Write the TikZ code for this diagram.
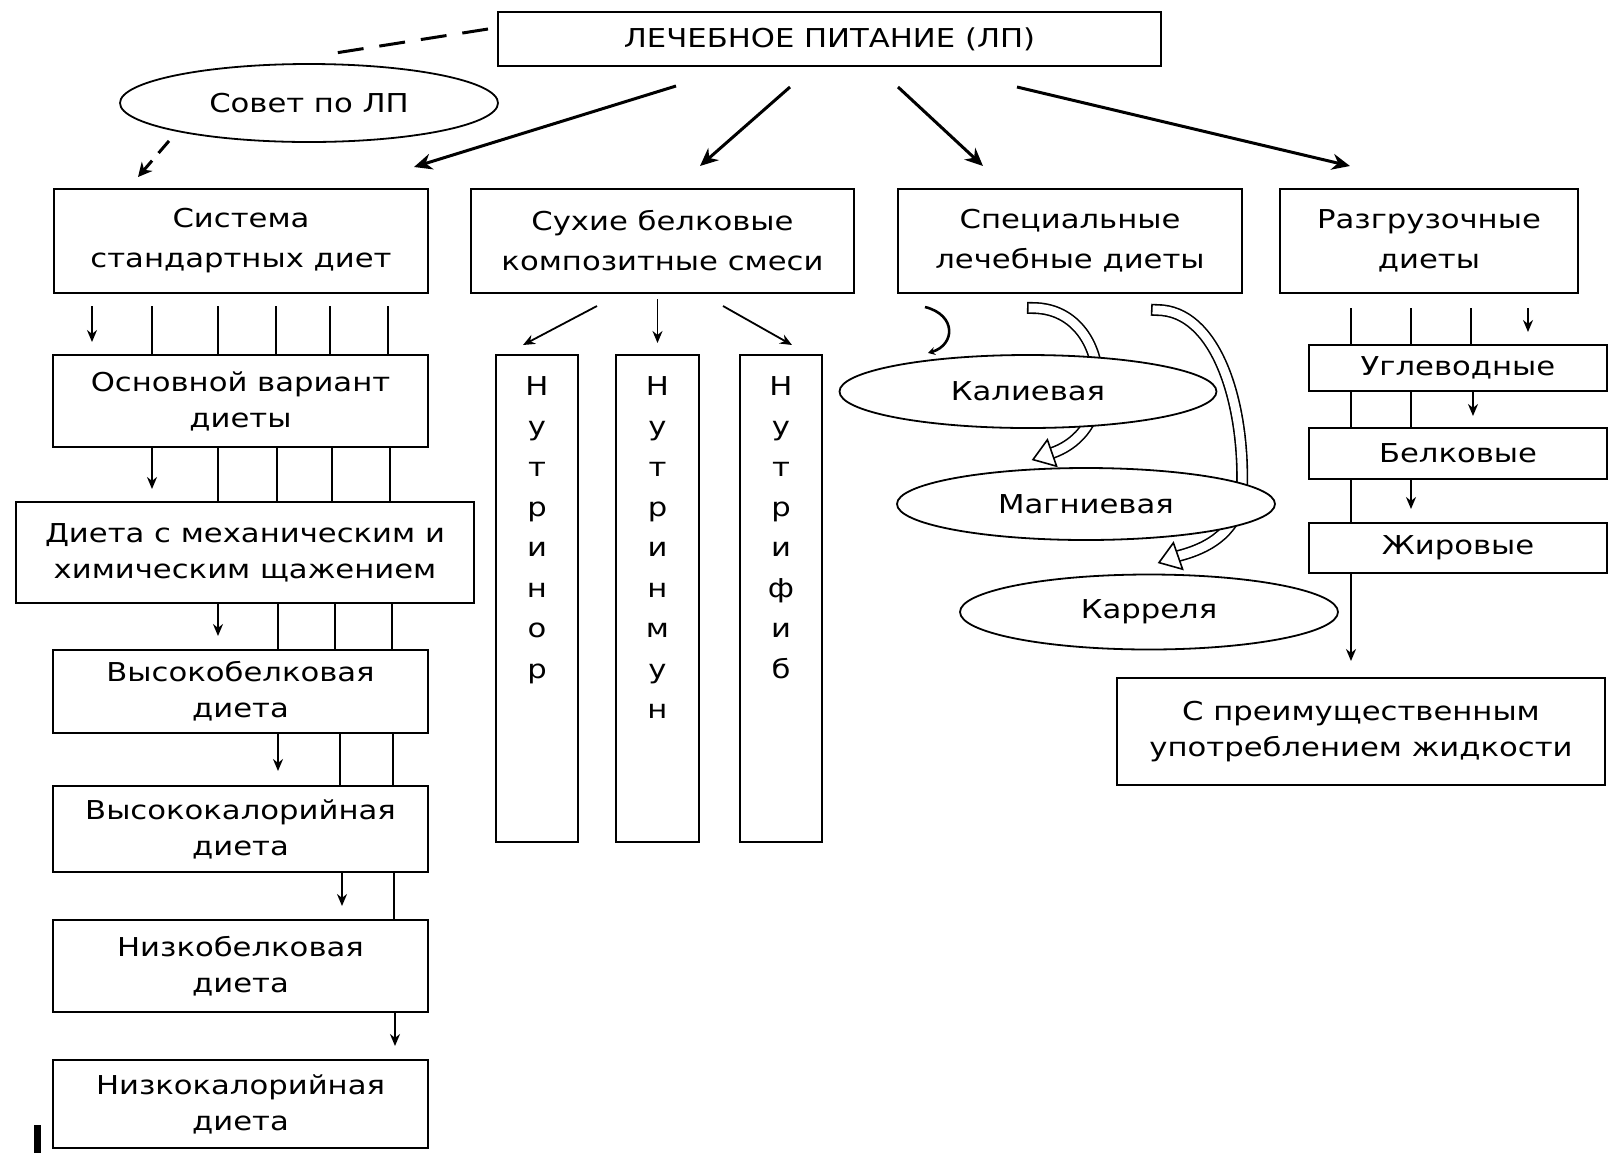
\documentclass[tikz,border=0pt]{standalone}
\usepackage{fontspec}
\setmainfont{DejaVu Sans}[FakeStretch=1.18]
\usetikzlibrary{arrows.meta,shapes.geometric}

\newcommand*{\boxfont}{\fontsize{13pt}{18pt}\selectfont}
\newcommand*{\rowfont}{\fontsize{13pt}{20pt}\selectfont}
\newcommand*{\letterfont}{\fontsize{13pt}{20.2pt}\selectfont}

\tikzset{
    dietbox/.style={draw, line width=1pt, align=center, inner sep=0pt, font=\boxfont},
    dietoval/.style={ellipse, draw, line width=0.9pt, fill=white, inner sep=0pt, font=\boxfont},
    lane/.style={line width=0.9pt},
    downarrow/.style={line width=0.9pt, -{Stealth[length=6pt,width=5pt]}},
    fanarrow/.style={line width=1.5pt, -{Stealth[length=9pt,width=8pt]}},
    dashline/.style={line width=1.5pt, dash pattern=on 13pt off 8pt},
    hollow/.style={double=white, double distance=4.4pt, line width=0.8pt, line cap=rect},
    hollowhead/.style={draw, line width=0.8pt, fill=white, line join=miter},
}

\begin{document}
\begin{tikzpicture}[x=0.5pt, y=-0.5pt]
    \useasboundingbox (0,0) rectangle (1614,1153);

    % top
    \node[dietbox, minimum width=331.5pt, minimum height=27pt, font=\rowfont] (lp) at (829.5,39) {ЛЕЧЕБНОЕ ПИТАНИЕ (ЛП)};
    \node[dietoval, minimum width=189pt, minimum height=39pt] (sovet) at (309,103) {Совет по ЛП};

    % second row
    \node[dietbox, minimum width=187pt, minimum height=52pt, font=\rowfont] (sys) at (241,241) {Система\\стандартных диет};
    \node[dietbox, minimum width=191.5pt, minimum height=52pt, font=\rowfont] (dry) at (662.5,241) {Сухие белковые\\композитные смеси};
    \node[dietbox, minimum width=172pt, minimum height=52pt, font=\rowfont] (spec) at (1070,241) {Специальные\\лечебные диеты};
    \node[dietbox, minimum width=149pt, minimum height=52pt, font=\rowfont] (unload) at (1429,241) {Разгрузочные\\диеты};

    \coordinate (dashend) at (329,54);
    \draw[dashline] ([xshift=-4.5pt,yshift=5pt]lp.west) -- (dashend);
    \draw[dashline, dash pattern=on 8pt off 5pt, -{Stealth[length=7pt,width=7pt]}] ([xshift=-70pt,yshift=1pt]sovet.south) -- ([xshift=-51.5pt,yshift=5.5pt]sys.north);

    \draw[fanarrow] ([xshift=-76.75pt,yshift=-9.5pt]lp.south) -- ([xshift=86.5pt,yshift=10.5pt]sys.north);
    \draw[fanarrow] ([xshift=-19.75pt,yshift=-10pt]lp.south) -- ([xshift=18.75pt,yshift=11pt]dry.north);
    \draw[fanarrow] ([xshift=34.25pt,yshift=-10pt]lp.south) -- ([xshift=-43.5pt,yshift=11pt]spec.north);
    \draw[fanarrow] ([xshift=93.75pt,yshift=-10pt]lp.south) -- ([xshift=-39.5pt,yshift=11pt]unload.north);

    % standard diets
    \node[dietbox, minimum width=187.5pt, minimum height=46pt] (base) at (240.5,401) {Основной вариант\\диеты};
    \node[dietbox, minimum width=229pt, minimum height=50.5pt] (mech) at (245,552.5) {Диета с механическим и\\химическим щажением};
    \node[dietbox, minimum width=187.5pt, minimum height=41.5pt] (hiprot) at (240.5,691.5) {Высокобелковая\\диета};
    \node[dietbox, minimum width=187.5pt, minimum height=43pt] (hical) at (240.5,829) {Высококалорийная\\диета};
    \node[dietbox, minimum width=187.5pt, minimum height=46pt] (loprot) at (240.5,966) {Низкобелковая\\диета};
    \node[dietbox, minimum width=187.5pt, minimum height=44pt] (lowcal) at (240.5,1104) {Низкокалорийная\\диета};

    \draw[downarrow, shorten <=6pt, shorten >=6pt] (sys.south -| 92,0) -- (base.north -| 92,0);
    \foreach \x in {152,218,276,330,388} {
        \draw[lane, shorten <=6pt] (sys.south -| \x,0) -- (base.north -| \x,0);
        }
    \draw[downarrow, shorten >=6pt] (base.south -| 152,0) -- (mech.north -| 152,0);
    \foreach \x in {218,277,332,390} {
        \draw[lane] (base.south -| \x,0) -- (mech.north -| \x,0);
        }
    \draw[downarrow, shorten >=6.5pt] (mech.south -| 218,0) -- (hiprot.north -| 218,0);
    \foreach \x in {278,335,392} {
        \draw[lane] (mech.south -| \x,0) -- (hiprot.north -| \x,0);
        }
    \draw[downarrow, shorten >=7pt] (hiprot.south -| 278,0) -- (hical.north -| 278,0);
    \foreach \x in {340,393} {
        \draw[lane] (hiprot.south -| \x,0) -- (hical.north -| \x,0);
        }
    \draw[downarrow, shorten >=6.5pt] (hical.south -| 342,0) -- (loprot.north -| 342,0);
    \draw[lane] (hical.south -| 394,0) -- (loprot.north -| 394,0);
    \draw[downarrow, shorten >=6.5pt] (loprot.south -| 395,0) -- (lowcal.north -| 395,0);

    \draw[line width=3.5pt] (37,1125) -- (37,1153);

    % dry mixtures
    \node[dietbox, minimum width=41pt, minimum height=243.5pt] (nutrinor) at (537,598.5) {};
    \node[dietbox, minimum width=41.5pt, minimum height=243.5pt] (nutrimun) at (657.5,598.5) {};
    \node[dietbox, minimum width=41pt, minimum height=243.5pt] (nutrifib) at (781,598.5) {};

    \node[anchor=north, align=center, inner sep=0pt, font=\letterfont] (nortxt) at ([yshift=-11pt]nutrinor.north) {Н\\у\\т\\р\\и\\н\\о\\р};
    \node[anchor=north, align=center, inner sep=0pt, font=\letterfont] (muntxt) at ([yshift=-11pt]nutrimun.north) {Н\\у\\т\\р\\и\\н\\м\\у\\н};
    \node[anchor=north, align=center, inner sep=0pt, font=\letterfont] (fibtxt) at ([yshift=-11pt]nutrifib.north) {Н\\у\\т\\р\\и\\ф\\и\\б};

    \draw[downarrow] ([xshift=-32.75pt,yshift=-6pt]dry.south) -- ([xshift=-7pt,yshift=4.5pt]nutrinor.north);
    \draw[downarrow, shorten <=2.5pt, shorten >=5.5pt] (dry.south -| nutrimun.north) -- (nutrimun.north);
    \draw[downarrow] ([xshift=30.25pt,yshift=-6pt]dry.south) -- ([xshift=5.5pt,yshift=4.5pt]nutrifib.north);

    % special diets
    \draw[line width=1.3pt, -{Stealth[length=3.5pt,width=4pt]}] (925,307) .. controls (957,315) and (955,345) .. (928,353);

    \coordinate (kalfrom) at (1033,308);
    \coordinate (kalto) at (1052,453);
    \coordinate (magfrom) at (1157,310);
    \coordinate (magto) at (1178,556);
    \draw[hollow] (kalfrom) .. controls (1075,308) and (1100,345) .. (1098,390) .. controls (1096,425) and (1075,445) .. (kalto);
    \draw[hollow] (magfrom) .. controls (1215,310) and (1245,400) .. (1242,490) .. controls (1240,530) and (1210,548) .. (magto);

    \node[dietoval, minimum width=188.5pt, minimum height=36.5pt] (kal) at (1028,391.5) {Калиевая};
    \node[dietoval, minimum width=189pt, minimum height=36pt] (mag) at (1086,504) {Магниевая};
    \node[dietoval, minimum width=189pt, minimum height=37.5pt] (kar) at (1149,612) {Карреля};

    \draw[hollowhead] (1033,459.6) -- (1056.6,466.2) -- (1047.4,439.8) -- cycle;
    \draw[hollowhead] (1159,562.6) -- (1182.6,569.2) -- (1173.4,542.8) -- cycle;

    % unloading diets
    \node[dietbox, minimum width=149pt, minimum height=23pt] (carb) at (1458,368) {Углеводные};
    \node[dietbox, minimum width=149pt, minimum height=25.5pt] (prot) at (1458,453.5) {Белковые};
    \node[dietbox, minimum width=149pt, minimum height=25pt] (fat) at (1458,548) {Жировые};
    \node[dietbox, minimum width=244pt, minimum height=53.5pt] (fluid) at (1361,731.5) {С преимущественным\\употреблением жидкости};

    \foreach \x in {1351,1411,1471} {
        \draw[lane, shorten <=7pt] (unload.south -| \x,0) -- (carb.north -| \x,0);
        }
    \draw[downarrow, shorten <=7pt, shorten >=6pt] (unload.south -| 1528,0) -- (carb.north -| 1528,0);
    \foreach \x in {1351,1411} {
        \draw[lane] (carb.south -| \x,0) -- (prot.north -| \x,0);
        }
    \draw[downarrow, shorten >=5.5pt] (carb.south -| 1473,0) -- (prot.north -| 1473,0);
    \draw[lane] (prot.south -| 1351,0) -- (fat.north -| 1351,0);
    \draw[downarrow, shorten >=6.5pt] (prot.south -| 1411,0) -- (fat.north -| 1411,0);
    \draw[downarrow, shorten >=8pt] (fat.south -| 1351,0) -- (fluid.north -| 1351,0);

\end{tikzpicture}
\end{document}
